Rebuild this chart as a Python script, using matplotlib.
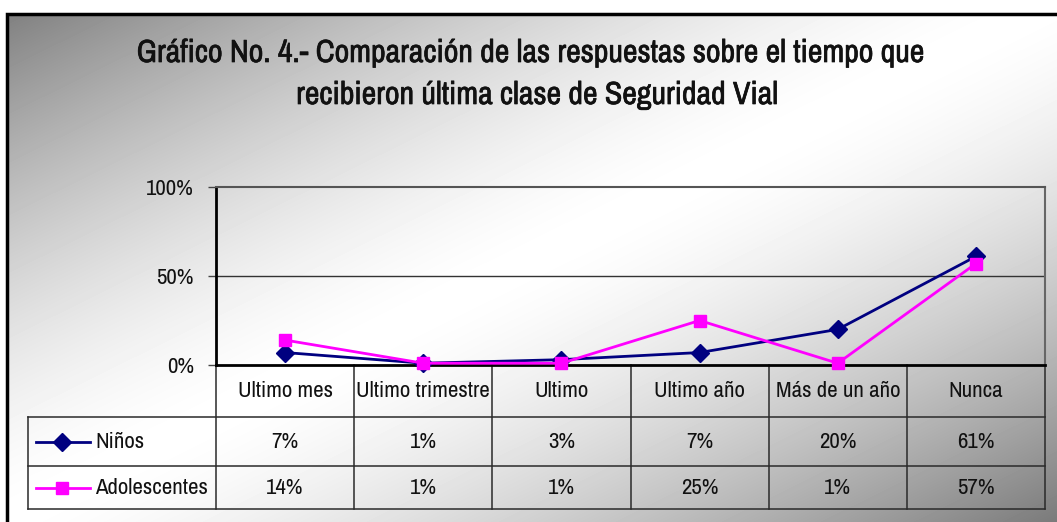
import numpy as np
import matplotlib
matplotlib.use("Agg")
from matplotlib import pyplot as plt
from matplotlib import patheffects
from matplotlib.lines import Line2D
from matplotlib.transforms import blended_transform_factory

categorias = ["Ultimo mes", "Ultimo trimestre", "Ultimo", "Ultimo año",
              "Más de un año", "Nunca"]
series = ["Niños", "Adolescentes"]
ninos = [7, 1, 3, 7, 20, 61]
adolescentes = [14, 1, 1, 25, 1, 57]
yticks = [0, 50, 100]
titulo = ["Gráfico No. 4.- Comparación de las respuestas sobre el tiempo que",
          "recibieron última clase de Seguridad Vial"]

colores = ["#000080", "#FF00FF"]
marcadores = ["D", "s"]
valores = [ninos, adolescentes]

plt.rcParams['font.family'] = ['Archivo Narrow', 'Liberation Sans', 'DejaVu Sans']

W, H = 1057, 522
fig = plt.figure(figsize=(W / 100, H / 100), dpi=100)

# background gradient (diagonal, white band through the middle)
bg = fig.add_axes([0, 0, 1, 1], zorder=0)
xx, yy = np.meshgrid(np.arange(W), np.arange(H))
t = xx / W + yy / H
val = 255 - 133 * np.abs(t - 1) ** 1.5
img = np.clip(val, 0, 255) / 255.0
img[:14, :] = 1.0
img[:, :7] = 1.0
bg.imshow(img, cmap="gray", vmin=0, vmax=1, extent=(0, W, H, 0),
          aspect="auto", interpolation="bilinear")
bg.set_xlim(0, W)
bg.set_ylim(H, 0)
bg.axis("off")
# outer frame (top and left visible)
bg.plot([6.5, 6.5, W + 5], [H + 5, 13.5, 13.5], color="black", lw=2.5,
        solid_joinstyle="miter")

# title
bold = [patheffects.withStroke(linewidth=0.5, foreground="#111111")]
fig.text(530 / W, 1 - 62 / H, titulo[0], ha="center", va="baseline",
         fontsize=23, color="#111111", path_effects=bold)
fig.text(537 / W, 1 - 104 / H, titulo[1], ha="center", va="baseline",
         fontsize=23, color="#111111", path_effects=bold)

# plot area
px0, px1, py0, py1 = 216, 1045, 187, 365
ax = fig.add_axes([px0 / W, 1 - py1 / H, (px1 - px0) / W, (py1 - py0) / H],
                  zorder=2)
ax.patch.set_alpha(0)
x = np.arange(len(categorias))
sizes = {"D": 9, "s": 8.5}
for vals, c, m, name in zip(valores, colores, marcadores, series):
    ax.plot(x, vals, color=c, lw=2, marker=m, markersize=sizes[m],
            markerfacecolor=c, markeredgecolor=c, label=name, clip_on=False,
            zorder=3)
ax.set_xlim(-0.5, len(categorias) - 0.5)
ax.set_ylim(0, 100)
ax.set_yticks(yticks)
ax.set_yticklabels([f"{v}%" for v in yticks], fontsize=16.5, color="#111")
ax.tick_params(axis="y", length=6, width=1, color="#444", pad=10)
ax.set_xticks([])
ax.axhline(50, color="#333", lw=1, zorder=1)
ax.spines["top"].set_color("#555")
ax.spines["top"].set_linewidth(1.5)
ax.spines["right"].set_color("#666")
ax.spines["right"].set_linewidth(1.5)
ax.spines["left"].set_color("black")
ax.spines["left"].set_linewidth(2)
ax.spines["bottom"].set_color("black")
ax.spines["bottom"].set_linewidth(2)

# data table below the plot
tr = blended_transform_factory(ax.transData, fig.transFigure)
fy = lambda py: 1 - py / H
row_y = [365, 417, 466, 509]
lc = "#2a2a2a"
for i in range(len(categorias) + 1):
    xb = i - 0.5
    ax.add_line(Line2D([xb, xb], [fy(row_y[0]), fy(row_y[3])], transform=tr,
                       color=lc, lw=1.1, clip_on=False))
for py in row_y[1:]:
    bg.plot([28, px1], [py, py], color=lc, lw=1.1)
bg.plot([28, 28], [row_y[1], row_y[3]], color=lc, lw=1.1)

fs = 16.5
for i, cat in enumerate(categorias):
    ax.text(i, fy((row_y[0] + row_y[1]) / 2), cat, transform=tr, ha="center",
            va="center", fontsize=fs, color="#111")
for r, (vals, c, m, name) in enumerate(zip(valores, colores, marcadores,
                                           series)):
    yc = (row_y[r + 1] + row_y[r + 2]) / 2
    for i, v in enumerate(vals):
        ax.text(i, fy(yc), f"{v}%", transform=tr, ha="center", va="center",
                fontsize=fs, color="#111")
    bg.plot([36, 90], [yc, yc], color=c, lw=2)
    bg.plot([62], [yc], marker=m, color=c, markersize=sizes[m])
    bg.text(95, yc, name, ha="left", va="center", fontsize=fs, color="#111")

fig.savefig("out.png", dpi=100)
